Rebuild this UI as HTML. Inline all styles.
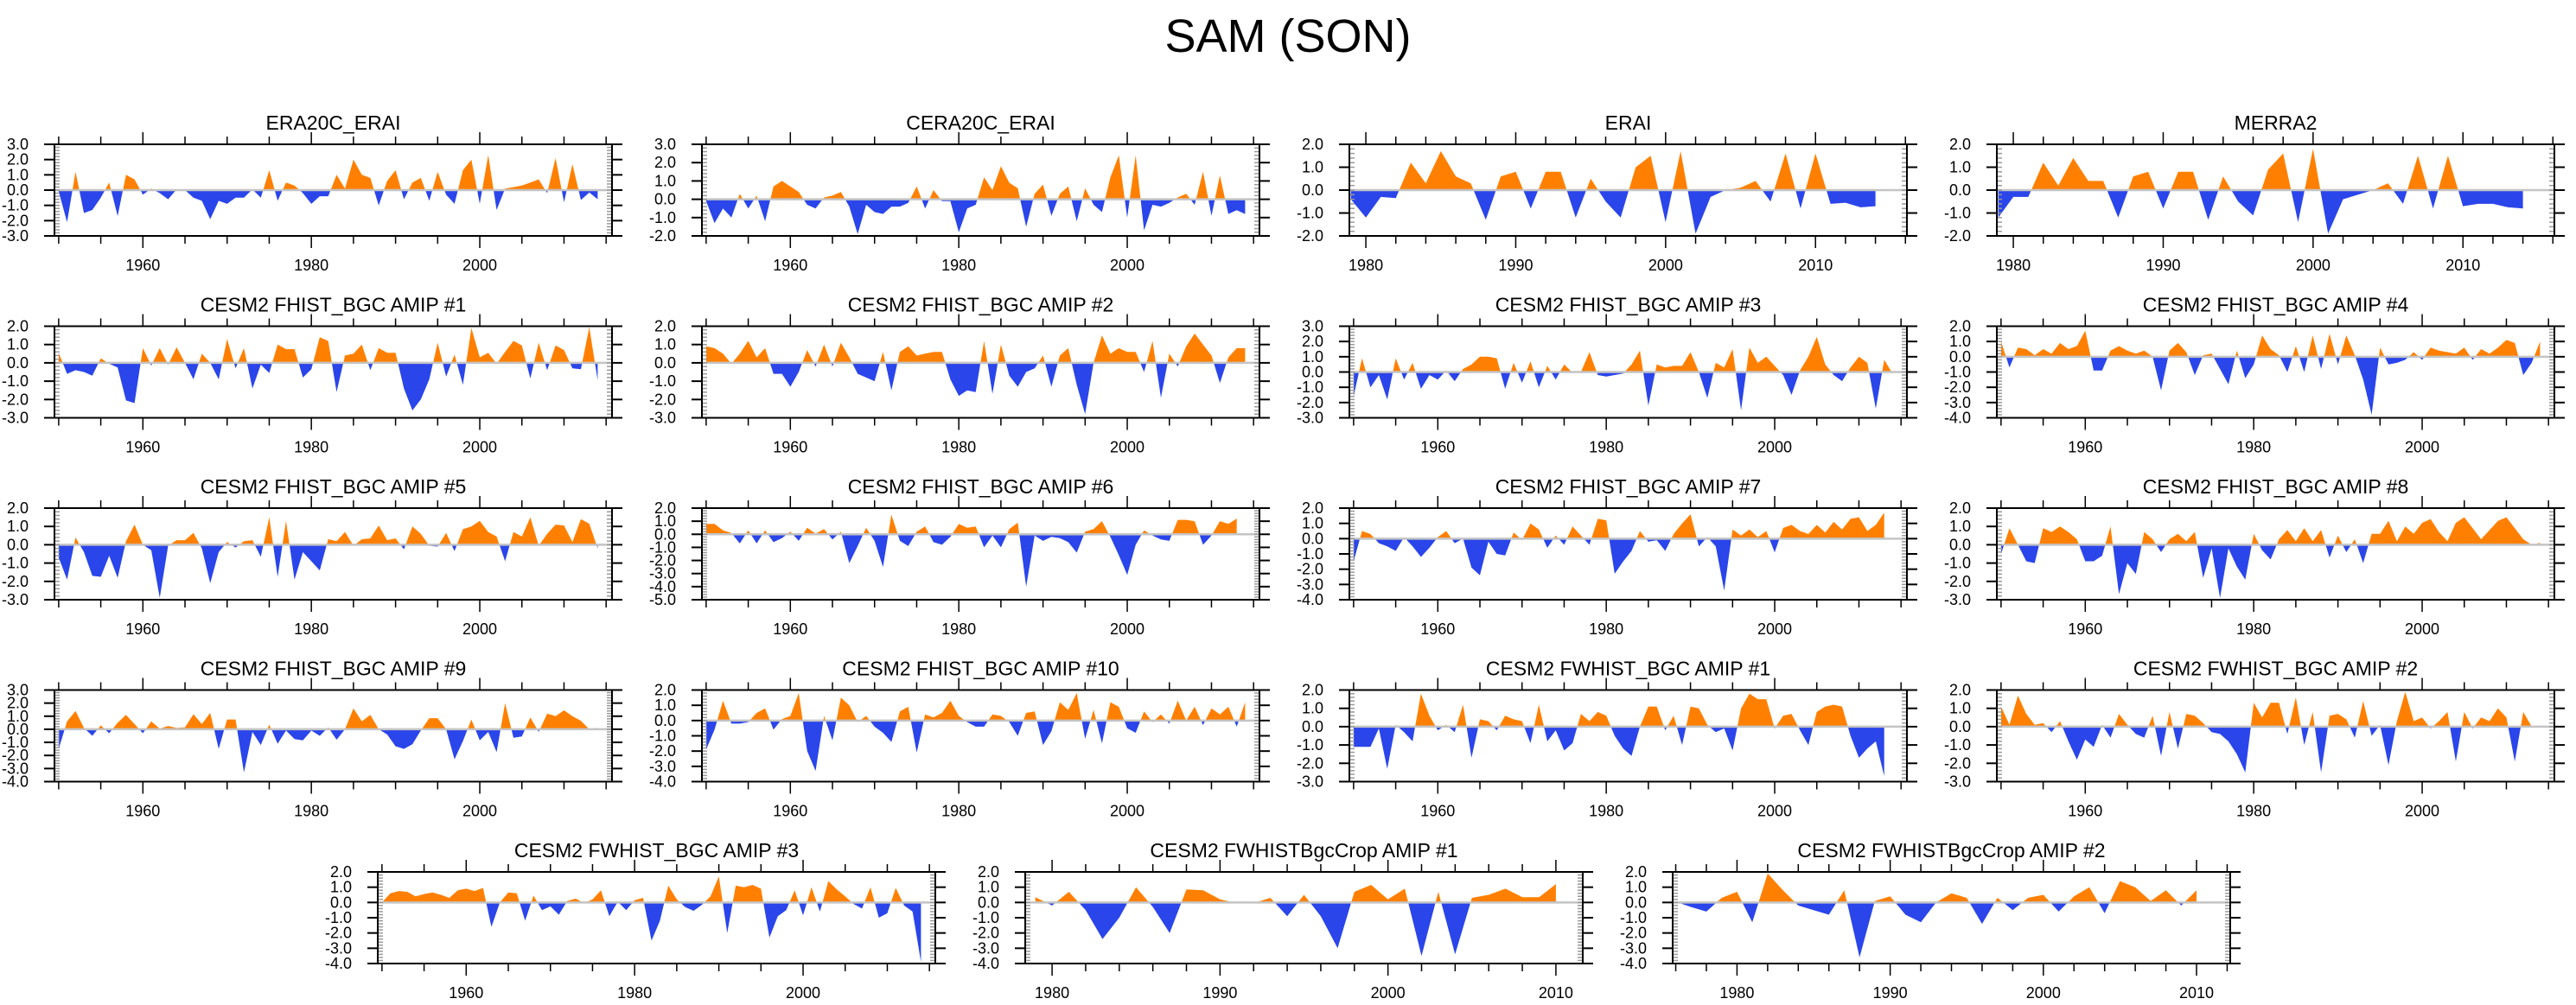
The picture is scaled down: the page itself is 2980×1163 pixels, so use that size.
<!DOCTYPE html>
<html><head><meta charset="utf-8"><style>
html,body{margin:0;padding:0;background:#fff;}
svg{display:block;font-family:"Liberation Sans",Arial,sans-serif;}
</style></head><body>
<svg id="fig" width="2980" height="1163" viewBox="0 0 2980 1163">
<text x="1490" y="60" font-size="54" text-anchor="middle">SAM (SON)</text>
</svg>
<script>
const titles = ["ERA20C_ERAI","CERA20C_ERAI","ERAI","MERRA2",
"CESM2 FHIST_BGC AMIP #1","CESM2 FHIST_BGC AMIP #2","CESM2 FHIST_BGC AMIP #3","CESM2 FHIST_BGC AMIP #4",
"CESM2 FHIST_BGC AMIP #5","CESM2 FHIST_BGC AMIP #6","CESM2 FHIST_BGC AMIP #7","CESM2 FHIST_BGC AMIP #8",
"CESM2 FHIST_BGC AMIP #9","CESM2 FHIST_BGC AMIP #10","CESM2 FWHIST_BGC AMIP #1","CESM2 FWHIST_BGC AMIP #2",
"CESM2 FWHIST_BGC AMIP #3","CESM2 FWHISTBgcCrop AMIP #1","CESM2 FWHISTBgcCrop AMIP #2"];
const startYears = [1950,1950,1979,1979, 1950,1950,1950,1950, 1950,1950,1950,1950, 1950,1950,1950,1950, 1950,1979,1976];
const yMins = [-3,-2,-2,-2, -3,-3,-3,-4, -3,-5,-4,-3, -4,-4,-3,-3, -4,-4,-4];
const yMaxs = [3,3,2,2, 2,2,3,2, 2,2,2,2, 3,2,2,2, 2,2,2];
const s0 = [-0.1,-2.1,1.2,-1.5,-1.3,-0.5,0.5,-1.7,1.0,0.7,-0.3,0.1,-0.2,-0.6,0.05,0.0,-0.5,-0.7,-1.9,-0.7,-0.9,-0.5,-0.5,0.05,-0.5,1.3,-0.7,0.5,0.3,-0.2,-0.9,-0.4,-0.4,1.0,0.1,2.0,1.0,0.8,-1.0,0.6,1.3,-0.6,0.5,0.8,-0.7,1.2,-0.3,-0.9,1.3,2.0,-0.9,2.3,-1.3,0.1,0.2,0.3,0.5,0.7,-0.2,2.1,-0.8,1.7,-0.65,-0.15,-0.6];
const s1 = [-0.1,-1.3,-0.5,-1.0,0.3,-0.5,0.2,-1.2,0.7,1.0,0.7,0.4,-0.3,-0.5,0.1,0.2,0.4,-0.4,-1.9,-0.3,-0.7,-0.8,-0.4,-0.4,-0.2,0.7,-0.5,0.5,-0.1,-0.1,-1.8,-0.5,-0.3,1.2,0.5,1.8,0.9,0.6,-1.5,0.3,0.8,-0.9,0.3,0.7,-1.2,0.6,-0.3,-0.7,1.2,2.4,-1.0,2.4,-1.7,-0.3,-0.4,-0.2,0.1,0.3,-0.3,1.5,-0.9,1.3,-0.8,-0.6,-0.8];
const s2 = [-0.4,-1.2,-0.3,-0.35,1.2,0.3,1.7,0.6,0.3,-1.3,0.6,0.8,-0.8,0.8,0.8,-1.2,0.5,-0.5,-1.2,1.0,1.5,-1.4,1.7,-1.9,-0.3,0.0,0.1,0.4,-0.5,1.6,-0.8,1.6,-0.6,-0.55,-0.75,-0.7];
const s3 = [-1.2,-0.3,-0.3,1.2,0.2,1.4,0.4,0.4,-1.2,0.6,0.8,-0.8,0.8,0.8,-1.3,0.6,-0.5,-1.1,0.9,1.6,-1.4,1.8,-1.9,-0.4,-0.2,0.0,0.3,-0.6,1.5,-0.8,1.5,-0.7,-0.6,-0.6,-0.75,-0.8];
const s4 = [0.55,-0.6,-0.4,-0.5,-0.7,0.25,-0.05,-0.25,-2.05,-2.2,0.8,-0.15,0.8,-0.1,0.85,0.0,-0.9,0.5,0.0,-0.9,1.3,-0.3,0.8,-1.4,-0.1,-0.55,1.0,0.75,0.75,-0.8,-0.35,1.4,1.2,-1.6,0.4,0.5,1.0,-0.4,0.8,0.55,0.55,-1.4,-2.6,-2.0,-0.9,1.1,-0.75,0.45,-1.2,1.9,0.3,0.55,-0.05,0.6,1.2,0.95,-0.85,1.1,-0.4,0.95,0.7,-0.3,-0.35,1.95,-0.95];
const s5 = [0.9,0.8,0.5,-0.05,0.5,1.2,0.3,0.8,-0.6,-0.6,-1.3,-0.5,0.7,-0.2,1.0,-0.2,1.1,0.3,-0.6,-0.8,-1.0,0.6,-1.5,0.6,0.9,0.4,0.5,0.6,0.6,-0.9,-1.8,-1.5,-1.6,1.2,-1.7,1.0,-0.7,-1.3,-0.5,-0.3,0.4,-1.3,0.4,0.8,-1.2,-2.8,0.0,1.5,0.5,0.8,0.6,0.6,-0.5,1.2,-1.9,0.5,-0.2,0.9,1.6,1.0,0.4,-1.1,0.3,0.8,0.8];
const s6 = [-1.6,0.9,-1.0,-0.2,-1.8,0.9,-0.5,0.6,-1.1,-0.2,-0.5,0.1,-0.6,0.2,0.5,1.0,1.0,0.9,-1.1,0.6,-0.7,0.7,-1.0,0.4,-0.5,0.5,-0.05,0.0,1.3,-0.2,-0.3,-0.2,-0.1,0.5,1.4,-2.2,0.5,0.3,0.4,0.4,1.3,0.0,-1.7,0.6,0.3,1.5,-2.5,1.6,0.6,1.0,0.4,-0.2,-1.5,0.1,1.0,2.3,0.5,-0.2,-0.6,0.3,1.0,0.6,-2.4,0.8,-0.1];
const s7 = [1.0,-0.7,0.6,0.5,0.1,0.5,0.2,0.9,0.5,0.7,1.7,-0.9,-0.9,0.4,0.7,0.4,0.2,0.4,0.0,-2.2,0.4,0.9,0.3,-1.2,0.1,0.2,-0.8,-1.8,0.4,-1.4,-0.5,1.4,0.5,0.1,-1.0,0.7,-1.0,1.4,-0.8,1.5,-0.5,1.4,0.1,-1.5,-3.8,0.6,-0.5,-0.4,-0.2,0.3,-0.2,0.6,0.4,0.3,0.2,0.6,-0.2,0.5,0.2,0.6,1.1,0.9,-1.2,-0.4,1.0];
const s8 = [-0.7,-1.9,0.4,-0.4,-1.7,-1.75,-0.6,-1.8,0.2,1.1,0.0,-0.3,-2.9,-0.05,0.25,0.25,0.65,-0.2,-2.1,-0.4,0.15,-0.15,0.2,0.25,-0.65,1.5,-1.75,1.3,-1.9,-0.4,-0.9,-1.4,0.3,0.2,0.7,-0.05,0.3,0.35,1.05,0.25,0.35,-0.25,1.0,0.6,-0.05,-0.1,0.65,-0.35,0.85,1.0,1.3,0.7,0.45,-0.9,0.7,0.45,1.5,-0.05,0.6,1.1,1.05,0.15,1.4,1.15,-0.2];
const s9 = [0.8,0.8,0.3,0.1,-0.7,0.3,-0.7,0.3,-0.6,-0.3,0.2,-0.5,0.5,0.05,0.4,-0.4,0.2,-2.2,-0.9,0.5,-0.5,-2.5,1.5,-0.5,-0.9,0.2,0.6,-0.6,-0.8,-0.2,0.8,0.5,0.6,-1.0,-0.1,-1.0,0.4,0.9,-4.0,-0.1,-0.5,-0.2,-0.3,-0.6,-1.4,0.2,0.4,1.0,-0.2,-1.6,-3.1,-0.8,0.3,-0.1,-0.4,-0.5,1.1,1.1,1.0,-0.8,-0.1,1.0,0.8,1.2];
const s10 = [-1.5,0.5,0.3,-0.3,-0.5,-0.8,0.1,-0.5,-1.2,-0.6,0.1,0.5,-0.3,0.0,-1.9,-2.4,-0.2,-1.0,-1.1,0.4,-0.1,1.0,0.6,-0.6,0.2,-0.4,0.8,0.2,-0.4,1.3,1.2,-2.3,-1.5,-0.8,0.5,-0.2,-0.1,-0.8,0.3,1.0,1.6,-0.5,0.1,-0.5,-3.4,0.6,0.2,0.6,0.1,0.5,-0.9,0.7,0.9,0.5,0.3,0.9,0.4,1.1,0.6,1.3,1.4,0.5,0.9,1.7];
const s11 = [-0.5,0.9,0.0,-0.9,-1.0,0.9,0.7,1.0,0.7,0.3,-0.9,-0.9,-0.6,1.0,-2.7,-1.0,-1.6,0.7,0.3,-0.4,0.3,0.6,0.2,0.7,-1.8,-0.2,-2.9,-0.2,-1.2,-1.9,0.6,-0.3,-0.8,0.3,0.8,0.2,0.9,0.2,0.8,-0.7,0.5,-0.4,0.3,-1.0,0.6,0.6,1.3,0.2,1.0,0.6,1.2,1.4,0.7,0.2,1.2,1.5,0.9,0.3,0.8,1.3,1.5,0.9,0.3,0.0,0.1];
const s12 = [-1.5,0.6,1.4,0.1,-0.5,0.3,-0.3,0.5,1.1,0.4,-0.3,0.6,0.05,0.25,0.1,0.15,1.15,0.4,1.25,-1.5,0.75,0.75,-3.3,-0.2,-1.2,0.35,-1.1,-0.1,-0.75,-0.85,-0.1,-0.5,0.15,-0.8,0.0,1.6,0.6,1.1,0.0,-0.4,-1.3,-1.5,-1.15,-0.1,0.85,0.85,0.0,-2.3,-0.9,0.75,-0.85,-0.2,-1.75,2.0,-0.65,-0.55,0.9,-0.2,1.2,1.0,1.45,1.0,0.65,0.0,0.1];
const s13 = [-1.9,-0.6,1.3,-0.2,-0.2,-0.1,0.5,0.8,-0.6,0.1,0.3,1.8,-2.0,-3.3,0.3,-1.3,1.5,1.0,-0.1,0.3,-0.4,-0.8,-1.4,0.6,0.9,-2.1,0.4,0.2,0.5,1.3,0.3,-0.1,-0.4,-0.4,0.4,0.3,-0.1,-1.0,0.5,0.6,-1.6,-0.7,1.2,0.7,1.8,-1.2,0.7,-1.5,1.2,0.9,-0.5,-0.8,0.6,-0.1,0.4,-0.2,1.3,0.0,0.9,-0.3,0.8,0.4,0.9,-0.4,1.2];
const s14 = [-1.1,-1.1,-1.1,-0.1,-2.3,0.1,-0.3,-0.8,1.8,0.6,-0.2,0.1,-0.3,1.2,-1.7,0.4,0.3,-0.2,0.6,0.4,0.3,-0.9,1.2,-0.8,-0.2,-1.3,-0.9,0.7,0.3,0.8,0.6,-0.5,-1.2,-1.6,0.0,1.1,1.1,-0.2,0.6,-1.0,1.1,1.0,0.1,-0.3,-0.1,-1.3,1.0,1.8,1.5,1.5,-0.1,0.6,0.7,-0.2,-1.0,0.8,1.1,1.2,1.1,-0.5,-1.7,-1.2,-0.8,-2.7];
const s15 = [1.1,0.1,1.7,0.7,0.1,0.2,-0.3,0.3,-0.8,-1.8,-0.7,-1.1,0.1,-0.6,0.7,0.1,-0.4,-0.6,0.6,-1.6,0.8,-1.2,0.7,0.6,0.2,-0.3,-0.4,-0.8,-1.5,-2.5,1.3,0.5,1.3,1.3,-0.4,1.6,-1.0,0.8,-2.5,0.6,0.7,0.4,-0.6,1.4,-0.5,0.1,-2.1,0.3,1.9,0.3,0.5,-0.1,0.3,0.8,-1.9,0.8,-0.1,0.5,0.3,1.0,0.5,-1.9,0.8,0.0];
const s16 = [0.0,0.6,0.75,0.7,0.4,0.55,0.65,0.5,0.3,0.8,0.9,0.75,0.95,-1.6,0.0,0.65,0.6,-1.2,0.45,-0.5,-0.25,-0.8,0.1,0.25,-0.05,0.2,0.8,-0.9,0.05,-0.5,0.15,0.3,-2.5,-1.2,1.1,0.2,-0.3,-0.55,-0.15,0.4,1.7,-2.0,1.1,1.0,1.15,0.9,-2.3,-0.9,-0.5,0.8,-0.85,1.0,-0.6,1.4,0.85,0.4,-0.1,-0.4,1.0,-1.0,-0.7,0.95,-0.2,-0.6,-3.9];
const s17 = [0.35,-0.2,0.7,-0.5,-2.4,-1.0,1.0,-0.3,-2.0,0.85,0.8,0.2,-0.05,-0.05,0.3,-0.9,0.5,-0.9,-3.0,0.7,1.15,0.2,0.9,-3.5,0.7,-3.4,0.3,0.5,0.9,0.35,0.35,1.2];
const s18 = [0.05,-0.3,-0.6,0.3,0.7,-1.3,1.9,0.8,-0.2,-0.5,-0.8,0.8,-3.6,0.1,0.4,-0.8,-1.3,0.0,0.6,0.3,-1.4,0.3,-0.5,0.3,0.5,-0.6,0.4,1.0,-0.7,1.4,1.0,0.1,0.8,-0.2,0.8];
const series = [s0,s1,s2,s3,s4,s5,s6,s7,s8,s9,s10,s11,s12,s13,s14,s15,s16,s17,s18];

const NS = "http://www.w3.org/2000/svg";
const svg = document.getElementById("fig");
const PW = 645, PH = 106;
const colX = [63, 812, 1561, 2310], rowY = [167, 377.5, 588, 798.5];
const botX = [437, 1186, 1935], botY = 1009;
function mk(tag, attrs, parent){ const e = document.createElementNS(NS, tag); for (const k in attrs) e.setAttribute(k, attrs[k]); (parent||svg).appendChild(e); return e; }

for (let i = 0; i < 19; i++) {
  const px = i < 16 ? colX[i % 4] : botX[i - 16];
  const py = i < 16 ? rowY[Math.floor(i / 4)] : botY;
  const data = series[i], y0 = startYears[i];
  const lastYear = y0 + data.length - 1;
  let xmin, xmax, labelStep, tickStep;
  if (y0 === 1950) { xmin = 1949.5; xmax = 2015.7; labelStep = 20; tickStep = 5; }
  else if (y0 === 1979 && i < 4) { xmin = 1978.9; xmax = 2016.1; labelStep = 10; tickStep = 2; }
  else if (y0 === 1979) { xmin = 1978.4; xmax = 2011.6; labelStep = 10; tickStep = 2; }
  else { xmin = 1975.8; xmax = 2012.2; labelStep = 10; tickStep = 2; }
  const ymin = yMins[i], ymax = yMaxs[i];
  const sx = y => px + (y - xmin) / (xmax - xmin) * PW;
  const sy = v => py + (ymax - v) / (ymax - ymin) * PH;

  const g = mk("g", {});
  
  

  const t = mk("text", {x: px + PW / 2, y: py - 17, "font-size": 23, "text-anchor": "middle"}, g);
  t.textContent = titles[i];
  
  

  const cid = "c" + i;
  const defs = mk("defs", {}, g);
  const cpA = mk("clipPath", {id: cid + "a"}, defs);
  mk("rect", {x: px, y: py, width: PW, height: sy(0) - py}, cpA);
  const cpB = mk("clipPath", {id: cid + "b"}, defs);
  mk("rect", {x: px, y: sy(0), width: PW, height: py + PH - sy(0)}, cpB);

  let pts = sx(y0).toFixed(1) + "," + sy(0).toFixed(1) + " ";
  data.forEach((v, k) => { pts += sx(y0 + k).toFixed(1) + "," + sy(v).toFixed(1) + " "; });
  pts += sx(lastYear).toFixed(1) + "," + sy(0).toFixed(1);
  const pa = mk("polygon", {points: pts, fill: "#ff8000", "clip-path": "url(#" + cid + "a)"}, g);
  
  
  const pb = mk("polygon", {points: pts, fill: "#2a45ea", "clip-path": "url(#" + cid + "b)"}, g);
  
  

  const zl = mk("line", {x1: px, x2: px + PW, y1: sy(0), y2: sy(0), stroke: "#c4c4c4", "stroke-width": 2.5}, g);
  
  

  for (let v = ymin; v <= ymax + 1e-6; v += 0.2) {
    const yy = sy(v);
    mk("line", {x1: px, x2: px + 6, y1: yy, y2: yy, stroke: "#999", "stroke-width": 1.5}, g);
    mk("line", {x1: px + PW, x2: px + PW - 6, y1: yy, y2: yy, stroke: "#999", "stroke-width": 1.5}, g);
  }
  for (let v = ymin; v <= ymax; v++) {
    const yy = sy(v);
    mk("line", {x1: px - 12, x2: px, y1: yy, y2: yy, stroke: "#000", "stroke-width": 2}, g);
    mk("line", {x1: px + PW, x2: px + PW + 12, y1: yy, y2: yy, stroke: "#000", "stroke-width": 2}, g);
    const lt = mk("text", {x: px - 30, y: yy + 6, "font-size": 18, "text-anchor": "end"}, g);
    lt.textContent = v.toFixed(1);
    
    
  }
  const firstTick = Math.ceil(xmin / tickStep) * tickStep;
  for (let yr = firstTick; yr <= xmax; yr += tickStep) {
    const xx = sx(yr), major = yr % labelStep === 0;
    mk("line", {x1: xx, x2: xx, y1: py + PH, y2: py + PH + (major ? 14 : 9), stroke: "#000", "stroke-width": 1.5}, g);
    mk("line", {x1: xx, x2: xx, y1: py, y2: py - (major ? 14 : 9), stroke: "#000", "stroke-width": 1.5}, g);
    if (major) {
      const xt = mk("text", {x: xx, y: py + PH + 40, "font-size": 18, "text-anchor": "middle"}, g);
      xt.textContent = yr;
      
      
    }
  }
  const fr = mk("rect", {x: px, y: py, width: PW, height: PH, fill: "none", stroke: "#000", "stroke-width": 2}, g);
  
  
}
</script>
</body></html>
